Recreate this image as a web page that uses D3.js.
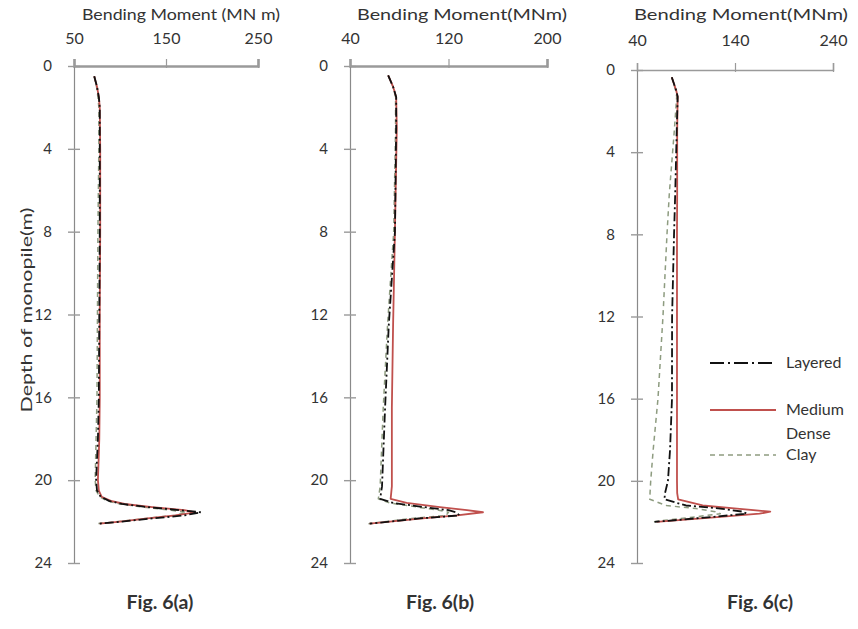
<!DOCTYPE html>
<html>
<head>
<meta charset="utf-8">
<script src="https://cdn.jsdelivr.net/npm/d3@7"></script>
<style>
  html, body { margin: 0; padding: 0; background: #fff; }
  svg { display: block; }
  text { font-family: Lato, "Open Sans", sans-serif; fill: #333; }
</style>
</head>
<body>
<svg id="chart" width="858" height="629"></svg>
<script>
// Depth below ground (m) at which moments were sampled, per figure
const depthA = [0.5, 1, 1.5, 2, 4, 8, 12, 16, 18, 20, 20.5, 20.8, 21.0, 21.15, 21.3, 21.45, 21.55, 21.7, 21.85, 22.0, 22.1];
const depthB = [0.45, 1, 1.5, 3, 8, 12.5, 16.5, 20.3, 20.9, 21.1, 21.3, 21.45, 21.55, 21.7, 21.85, 22.1];
const depthC = [0.35, 1, 1.3, 3, 6, 8, 12, 16, 18.5, 20, 20.6, 20.9, 21.2, 21.35, 21.5, 21.6, 21.75, 22.0];

// Bending moment (MN m) — Fig. 6(a)
const layeredA = [72, 75, 77, 78, 78, 78, 77.5, 77, 76, 74, 75, 79, 88, 102, 130, 165, 188, 170, 135, 102, 78];
const mediumA  = [72, 75, 77, 78, 78.5, 78.5, 78, 78, 77.5, 76, 77, 80, 90, 105, 135, 170, 182, 160, 130, 100, 78];
const clayA    = [72, 74.5, 76, 77, 77, 76, 75.5, 75, 74, 73, 74, 78, 86, 100, 125, 155, 172, 160, 128, 98, 76];

// Bending moment (MN m) — Fig. 6(b)
const layeredB = [71, 75, 77.5, 77.5, 76.5, 71.5, 68.5, 66, 64.5, 75, 100, 120, 126, 129, 96, 56];
const mediumB  = [71, 75, 77.5, 78, 76.5, 75, 74, 74, 73, 86, 113, 135, 148, 127, 99, 56];
const clayB    = [71, 75, 77, 77, 75.5, 70.5, 67, 64.5, 63, 72, 95, 112, 120, 118, 90, 55];

// Bending moment (MN m) — Fig. 6(c)
const layeredC = [75.5, 80, 81.5, 80.5, 79, 77.8, 75.8, 75.7, 73.7, 71.6, 68.6, 68, 90, 125, 148, 152, 118, 58];
const mediumC  = [75.5, 80, 81.5, 81, 81, 80.8, 80.8, 80.8, 80.8, 80.8, 81, 82, 107, 142, 176, 165, 125, 60];
const clayC    = [75.5, 79.5, 80.5, 78, 73, 70.6, 66.5, 61.4, 56.5, 54, 53.3, 53, 70, 100, 120, 125, 100, 55];

// Axis ticks
const xTicksA = [50, 150, 250];
const xTicksB = [40, 120, 200];
const xTicksC = [40, 140, 240];
const depthTicks = [0, 4, 8, 12, 16, 20, 24];

const titles = ["Bending Moment (MN m)", "Bending Moment(MNm)", "Bending Moment(MNm)"];
const captions = ["Fig. 6(a)", "Fig. 6(b)", "Fig. 6(c)"];
const seriesNames = ["Layered", "Medium Dense", "Clay"];

const svg = d3.select("#chart");

const styles = {
  Layered: { stroke: "#111", width: 1.8, dash: "9,3,2,3" },
  "Medium Dense": { stroke: "#c0504d", width: 1.8, dash: null },
  Clay: { stroke: "#8e9c80", width: 1.5, dash: "5,4" }
};

const panels = [
  { x0: 74, x1: 258, y0: 66, y1: 563, domain: [50, 250], ticks: xTicksA, depth: depthA,
    series: [layeredA, mediumA, clayA], axisW: 2.6, titleX: 82, titleLen: 198, labelGap: 15 },
  { x0: 350, x1: 547, y0: 66, y1: 563, domain: [40, 200], ticks: xTicksB, depth: depthB,
    series: [layeredB, mediumB, clayB], axisW: 2.6, titleX: 357, titleLen: 210, labelGap: 15 },
  { x0: 637, x1: 833, y0: 70, y1: 563, domain: [40, 240], ticks: xTicksC, depth: depthC,
    series: [layeredC, mediumC, clayC], axisW: 1.5, titleX: 634, titleLen: 214, labelGap: 17 }
];

panels.forEach((p, i) => {
  const x = d3.scaleLinear().domain(p.domain).range([p.x0, p.x1]);
  const y = d3.scaleLinear().domain([0, 24]).range([p.y0, p.y1]);
  const g = svg.append("g");

  // moment axis along the top
  const xa = g.append("g")
    .attr("transform", `translate(0,${p.y0})`)
    .call(d3.axisTop(x).tickValues(p.ticks).tickSize(7).tickPadding(p.labelGap));
  xa.select(".domain").attr("stroke", "#9a9a9a").attr("stroke-width", p.axisW);
  xa.selectAll(".tick line").attr("stroke", "#9a9a9a").attr("stroke-width", 1.2).attr("y2", -7).attr("y1", 2);
  xa.selectAll(".tick text").attr("font-size", 16).attr("fill", "#333")
    .attr("font-family", "Lato, sans-serif");

  // depth axis
  const ya = g.append("g")
    .attr("transform", `translate(${p.x0},0)`)
    .call(d3.axisLeft(y).tickValues(depthTicks).tickSize(6).tickSizeOuter(0).tickPadding(16));
  ya.select(".domain").attr("stroke", "#8a8a8a").attr("stroke-width", 1.2);
  ya.selectAll(".tick line").attr("stroke", "#9a9a9a").attr("stroke-width", 1.4).attr("x1", 6);
  ya.selectAll(".tick text").attr("font-size", 15).attr("fill", "#333")
    .attr("font-family", "Lato, sans-serif");

  // axis title
  g.append("text")
    .attr("x", p.titleX).attr("y", 20)
    .attr("font-size", 16)
    .attr("textLength", p.titleLen).attr("lengthAdjust", "spacingAndGlyphs")
    .text(titles[i]);

  // moment profiles
  const line = d3.line()
    .x(d => x(d[1]))
    .y(d => y(d[0]));
  // draw clay first, then medium dense, then layered on top
  [2, 1, 0].forEach(k => {
    const st = styles[seriesNames[k]];
    const pts = p.depth.map((d, j) => [d, p.series[k][j]]);
    g.append("path")
      .datum(pts)
      .attr("d", line)
      .attr("fill", "none")
      .attr("stroke", st.stroke)
      .attr("stroke-width", st.width)
      .attr("stroke-dasharray", st.dash)
      .attr("stroke-linejoin", "round");
  });

  // figure caption
  svg.append("text")
    .attr("x", [160, 440, 760][i]).attr("y", 609)
    .attr("text-anchor", "middle")
    .attr("font-family", "'Liberation Serif', 'Times New Roman', serif")
    .attr("font-weight", "bold")
    .attr("font-size", 19.5)
    .attr("fill", "#000")
    .text(captions[i]);
});

// shared depth title
svg.append("text")
  .attr("transform", "translate(32,310) rotate(-90)")
  .attr("text-anchor", "middle")
  .attr("font-size", 16)
  .attr("textLength", 205).attr("lengthAdjust", "spacingAndGlyphs")
  .text("Depth of monopile(m)");

// legend inside Fig. 6(c)
const legend = svg.append("g");
const legendRows = [
  { name: "Layered", lineY: 363, labels: [["Layered", 368]] },
  { name: "Medium Dense", lineY: 410, labels: [["Medium", 415], ["Dense", 439]] },
  { name: "Clay", lineY: 455, labels: [["Clay", 460]] }
];
legendRows.forEach(r => {
  const st = styles[r.name];
  legend.append("line")
    .attr("x1", 710).attr("x2", 776).attr("y1", r.lineY).attr("y2", r.lineY)
    .attr("stroke", st.stroke).attr("stroke-width", st.width)
    .attr("stroke-dasharray", r.name === "Layered" ? "14,4,2,4" : st.dash);
  r.labels.forEach(([t, yy]) => {
    legend.append("text").attr("x", 786).attr("y", yy)
      .attr("font-size", 16)
      .text(t);
  });
});
</script>
</body>
</html>
